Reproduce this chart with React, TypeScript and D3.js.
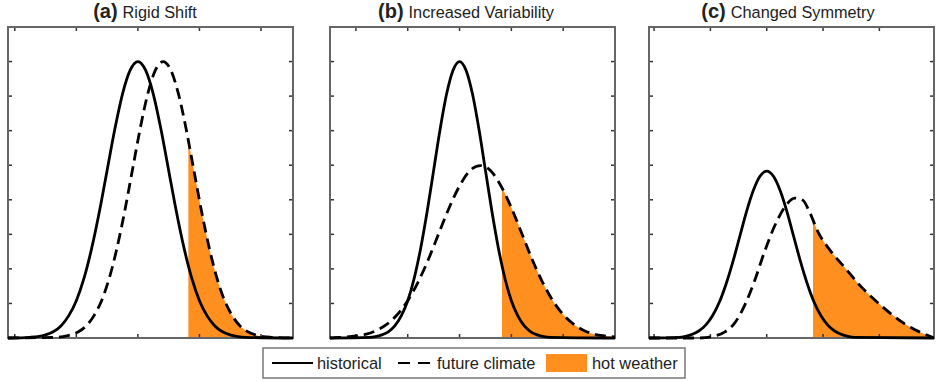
import React from 'react';
import * as d3 from 'd3';

const panelLetters = ['(a)', '(b)', '(c)'];
const panelTitles = ['Rigid Shift', 'Increased Variability', 'Changed Symmetry'];
const xDomains: [number, number][] = [[-2.11, 2.52], [-2.5, 3.0], [-2.09, 2.97]];
const xTickValues = [-2, -1, 0, 1, 2];
const yTickValues = [0, 0.1, 0.2, 0.3, 0.4, 0.5, 0.6, 0.7, 0.8, 0.9];
const hotThresholds = [0.82, 0.82, 0.82];
const legendLabels = ['historical', 'future climate', 'hot weather'];

type Pt = [number, number];

const historicalA: Pt[] = [
  [-2.11, 0], [-1.75, 0.002], [-1.625, 0.004], [-1.5, 0.009], [-1.375, 0.018], [-1.25, 0.035],
  [-1.125, 0.064], [-1.0, 0.108], [-0.875, 0.173], [-0.75, 0.26], [-0.625, 0.366], [-0.5, 0.485],
  [-0.375, 0.604], [-0.25, 0.706], [-0.125, 0.775], [0, 0.8], [0.125, 0.775], [0.25, 0.706],
  [0.375, 0.604], [0.5, 0.485], [0.625, 0.366], [0.75, 0.26], [0.875, 0.173], [1.0, 0.108],
  [1.125, 0.064], [1.25, 0.035], [1.375, 0.018], [1.5, 0.009], [1.625, 0.004], [1.75, 0.002], [2.52, 0],
];
const futureA: Pt[] = [
  [-2.11, 0], [-1.34, 0.002], [-1.215, 0.004], [-1.09, 0.009], [-0.965, 0.018], [-0.84, 0.035],
  [-0.715, 0.064], [-0.59, 0.108], [-0.465, 0.173], [-0.34, 0.26], [-0.215, 0.366], [-0.09, 0.485],
  [0.035, 0.604], [0.16, 0.706], [0.285, 0.775], [0.41, 0.8], [0.535, 0.775], [0.66, 0.706],
  [0.785, 0.604], [0.91, 0.485], [1.035, 0.366], [1.16, 0.26], [1.285, 0.173], [1.41, 0.108],
  [1.535, 0.064], [1.66, 0.035], [1.785, 0.018], [1.91, 0.009], [2.035, 0.004], [2.16, 0.002], [2.52, 0],
];
const historicalB: Pt[] = [
  [-2.5, 0], [-1.75, 0.002], [-1.625, 0.004], [-1.5, 0.009], [-1.375, 0.018], [-1.25, 0.035],
  [-1.125, 0.064], [-1.0, 0.108], [-0.875, 0.173], [-0.75, 0.26], [-0.625, 0.366], [-0.5, 0.485],
  [-0.375, 0.604], [-0.25, 0.706], [-0.125, 0.775], [0, 0.8], [0.125, 0.775], [0.25, 0.706],
  [0.375, 0.604], [0.5, 0.485], [0.625, 0.366], [0.75, 0.26], [0.875, 0.173], [1.0, 0.108],
  [1.125, 0.064], [1.25, 0.035], [1.375, 0.018], [1.5, 0.009], [1.625, 0.004], [1.75, 0.002], [3.0, 0],
];
const futureB: Pt[] = [
  [-2.5, 0], [-2.4, 0.001], [-2.2, 0.003], [-2.0, 0.006], [-1.8, 0.011], [-1.6, 0.022], [-1.4, 0.04],
  [-1.2, 0.068], [-1.0, 0.108], [-0.8, 0.162], [-0.6, 0.228], [-0.4, 0.303], [-0.2, 0.377], [0, 0.44],
  [0.2, 0.484], [0.4, 0.499], [0.6, 0.484], [0.8, 0.44], [1.0, 0.377], [1.2, 0.303], [1.4, 0.228],
  [1.6, 0.162], [1.8, 0.108], [2.0, 0.068], [2.2, 0.04], [2.4, 0.022], [2.6, 0.011], [2.8, 0.006], [3.0, 0.003],
];
const historicalC: Pt[] = [
  [-2.09, 0], [-1.56, 0.002], [-1.44, 0.005], [-1.32, 0.011], [-1.2, 0.021], [-1.08, 0.038],
  [-0.96, 0.065], [-0.84, 0.104], [-0.72, 0.157], [-0.6, 0.221], [-0.48, 0.293], [-0.36, 0.365],
  [-0.24, 0.426], [-0.12, 0.468], [0, 0.483], [0.12, 0.468], [0.24, 0.426], [0.36, 0.365],
  [0.48, 0.293], [0.6, 0.221], [0.72, 0.157], [0.84, 0.104], [0.96, 0.065], [1.08, 0.038],
  [1.2, 0.021], [1.32, 0.011], [1.44, 0.005], [1.56, 0.002], [2.97, 0],
];
const futureC: Pt[] = [
  [-2.09, 0], [-1.19, 0], [-0.92, 0.006], [-0.75, 0.017], [-0.57, 0.043], [-0.39, 0.095],
  [-0.21, 0.168], [-0.04, 0.249], [0.14, 0.324], [0.32, 0.379], [0.5, 0.405], [0.64, 0.399],
  [0.76, 0.365], [0.91, 0.307], [1.12, 0.255], [1.39, 0.203], [1.65, 0.153], [1.92, 0.11],
  [2.19, 0.072], [2.45, 0.041], [2.72, 0.017], [2.93, 0.003], [2.97, 0],
];

const historicalSeries = [historicalA, historicalB, historicalC];
const futureSeries = [futureA, futureB, futureC];

const ORANGE = '#ff8f1f';
const panelLefts = [8, 330, 649];
const panelW = 285;
const panelTop = 27;
const panelH = 311;
const titleCenters = [145, 466, 788];
const FONT = '"Liberation Sans", Arial, sans-serif';

function Panel({ i }: { i: number }) {
  const left = panelLefts[i];
  const x = d3.scaleLinear().domain(xDomains[i]).range([left, left + panelW]);
  const y = d3.scaleLinear().domain([0, 0.9]).range([panelTop + panelH, panelTop]);
  const line = d3.line<Pt>().x(d => x(d[0])).y(d => y(d[1])).curve(d3.curveMonotoneX);
  const area = d3.area<Pt>().x(d => x(d[0])).y0(y(0)).y1(d => y(d[1])).curve(d3.curveMonotoneX);
  const clipId = `clip-${i}`;
  const hotId = `hot-${i}`;
  const tx = x(hotThresholds[i]);
  const tl = 4;
  return (
    <g>
      <defs>
        <clipPath id={clipId}>
          <rect x={left} y={panelTop - 2} width={panelW} height={panelH + 4} />
        </clipPath>
        <clipPath id={hotId}>
          <rect x={tx} y={panelTop} width={left + panelW - tx} height={panelH} />
        </clipPath>
      </defs>
      <rect x={left} y={panelTop} width={panelW} height={panelH} fill="#fff" />
      <path d={area(futureSeries[i]) || ''} fill={ORANGE} clipPath={`url(#${hotId})`} />
      {xTickValues.map(t => (
        <g key={'x' + t} stroke="#333" strokeWidth={1.5}>
          <line x1={x(t)} x2={x(t)} y1={panelTop} y2={panelTop + tl} />
          <line x1={x(t)} x2={x(t)} y1={panelTop + panelH} y2={panelTop + panelH - tl} />
        </g>
      ))}
      {yTickValues.map(t => (
        <g key={'y' + t} stroke="#333" strokeWidth={1.5}>
          <line x1={left} x2={left + tl} y1={y(t)} y2={y(t)} />
          <line x1={left + panelW} x2={left + panelW - tl} y1={y(t)} y2={y(t)} />
        </g>
      ))}
      <rect x={left} y={panelTop} width={panelW} height={panelH} fill="none" stroke="#666" strokeWidth={2} />
      <g clipPath={`url(#${clipId})`}>
        <path d={line(historicalSeries[i]) || ''} fill="none" stroke="#000" strokeWidth={2.8} />
        <path d={line(futureSeries[i]) || ''} fill="none" stroke="#000" strokeWidth={2.8} strokeDasharray="11,6" />
      </g>
      <text x={titleCenters[i]} y={18} textAnchor="middle" fontFamily={FONT} fill="#222">
        <tspan fontWeight="bold" fontSize={20}>{panelLetters[i]}</tspan>
        <tspan fontSize={16.3} dx={5}>{panelTitles[i]}</tspan>
      </text>
    </g>
  );
}

export default function App() {
  return (
    <svg width={940} height={382} style={{ position: 'absolute', left: 0, top: 0, background: '#fff' }}>
      <rect width={940} height={382} fill="#fff" />
      {[0, 1, 2].map(i => <Panel key={i} i={i} />)}
      <g fontFamily={FONT} fontSize={16.4} fill="#222">
        <rect x={263} y={348} width={422} height={30} fill="#fff" stroke="#777" strokeWidth={1.5} />
        <line x1={272} x2={313} y1={363} y2={363} stroke="#000" strokeWidth={2.2} />
        <text x={317} y={369}>{legendLabels[0]}</text>
        <line x1={398} x2={430} y1={363} y2={363} stroke="#000" strokeWidth={2.2} strokeDasharray="12,8" />
        <text x={437} y={369}>{legendLabels[1]}</text>
        <rect x={546} y={354} width={41} height={18} fill={ORANGE} />
        <text x={592} y={369}>{legendLabels[2]}</text>
      </g>
    </svg>
  );
}
